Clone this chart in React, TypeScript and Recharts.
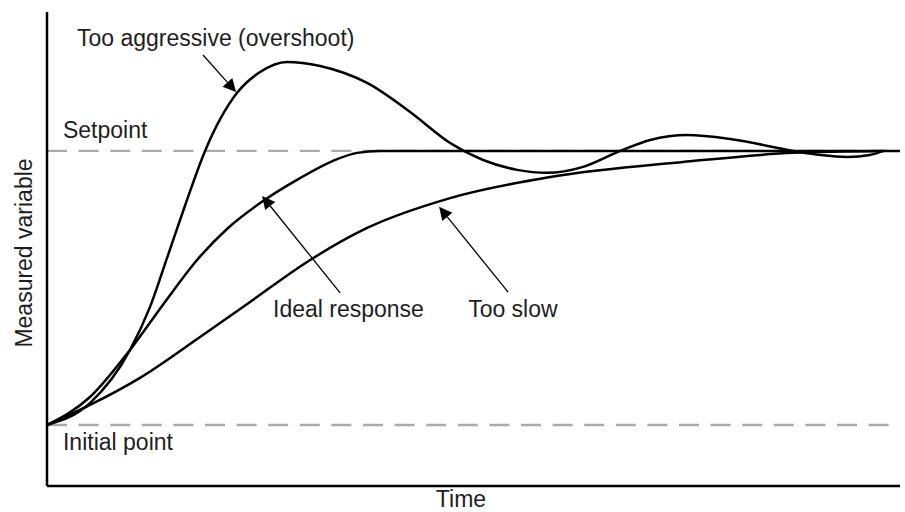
import { LineChart, Line, XAxis, YAxis, ReferenceLine, ReferenceDot, Label } from 'recharts';

// axis ranges (initial point = 0, setpoint = 1)
const TIME_MAX = 102;
const Y_MIN = -0.2226;
const Y_MAX = 1.507;
const SETPOINT = 1;
const INITIAL = 0;

// Too aggressive (overshoot)
const aggressiveT = [0, 5.14, 9.93, 12.32, 14.47, 16.5, 18.9, 22.73, 25.48, 28.71, 32.66, 38.28, 43.42, 48.21, 52.15, 56.22, 59.81, 64.11, 68.54, 72.13, 76.56, 81.7, 89.23, 92.5, 95.69, 98.4, 100];
const aggressiveV = [0, 0.08, 0.274, 0.431, 0.62, 0.8, 1.0, 1.212, 1.288, 1.325, 1.31, 1.248, 1.142, 1.029, 0.967, 0.931, 0.92, 0.942, 1.0, 1.04, 1.058, 1.044, 1.0, 0.985, 0.978, 0.985, 1.0];

// Ideal response
const idealT = [0, 5.14, 9.93, 14.11, 17.94, 21.65, 25.48, 30.26, 34.21, 37.08, 39.83, 102];
const idealV = [0, 0.102, 0.274, 0.449, 0.602, 0.719, 0.81, 0.901, 0.964, 0.993, 1.0, 1.0];

// Too slow
const slowT = [0, 5.14, 11.12, 18.3, 24.28, 31.1, 38.28, 48.21, 60.17, 76.08, 89.23, 100];
const slowV = [0, 0.073, 0.172, 0.321, 0.449, 0.595, 0.719, 0.828, 0.905, 0.96, 0.993, 1.0];

const notes = [
  { text: 'Too aggressive (overshoot)', t: 3.59, v: 1.383 },
  { text: 'Setpoint', t: 1.91, v: 1.047 },
  { text: 'Initial point', t: 1.91, v: -0.091 },
  { text: 'Ideal response', t: 27.03, v: 0.394 },
  { text: 'Too slow', t: 50.36, v: 0.394 },
];

// arrow tail -> tip
const arrows = [
  { from: [18.66, 1.35], to: [22.61, 1.215] },
  { from: [35.05, 0.482], to: [25.72, 0.836] },
  { from: [55.14, 0.485], to: [46.89, 0.796] },
];

const FONT = '"Liberation Sans", Arial, sans-serif';
const INK = '#1e1e1e';

const toRows = (ts: number[], vs: number[]) => ts.map((t, i) => ({ t, v: vs[i] }));

function Arrow(props: any) {
  const { x1, y1, x2, y2 } = props;
  const dx = x2 - x1;
  const dy = y2 - y1;
  const len = Math.sqrt(dx * dx + dy * dy);
  const ux = dx / len;
  const uy = dy / len;
  const headLen = 13;
  const halfW = 6.5;
  const bx = x2 - ux * headLen;
  const by = y2 - uy * headLen;
  const pts = [
    `${x2},${y2}`,
    `${bx - uy * halfW},${by + ux * halfW}`,
    `${bx + uy * halfW},${by - ux * halfW}`,
  ].join(' ');
  return (
    <g>
      <line x1={x1} y1={y1} x2={bx} y2={by} stroke="#000" strokeWidth={1.3} />
      <polygon points={pts} fill="#000" />
    </g>
  );
}

function NoteText({ cx, cy, text }: any) {
  return (
    <text x={cx} y={cy} fill={INK} fontSize={23} fontFamily={FONT}>
      {text}
    </text>
  );
}

export default function App() {
  return (
    <div style={{ position: 'absolute', left: 0, top: 0, width: 905, height: 512, background: '#fff' }}>
      <LineChart width={905} height={512} margin={{ top: 12, right: 5, bottom: 25, left: 46 }}>
        <XAxis
          type="number"
          dataKey="t"
          domain={[0, TIME_MAX]}
          allowDataOverflow
          height={1}
          tick={false}
          tickLine={false}
          axisLine={{ stroke: '#000', strokeWidth: 2.5 }}
        >
          <Label
            content={({ viewBox }: any) => (
              <text
                x={viewBox.x + viewBox.width / 2 - 12.5}
                y={viewBox.y + 21}
                textAnchor="middle"
                fill={INK}
                fontSize={23}
                fontFamily={FONT}
              >
                Time
              </text>
            )}
          />
        </XAxis>
        <YAxis
          type="number"
          domain={[Y_MIN, Y_MAX]}
          allowDataOverflow
          width={1}
          tick={false}
          tickLine={false}
          axisLine={{ stroke: '#000', strokeWidth: 2.5 }}
        >
          <Label
            content={({ viewBox }: any) => {
              const x = viewBox.x + viewBox.width - 15;
              const y = viewBox.y + viewBox.height / 2 + 4;
              return (
                <text
                  x={x}
                  y={y}
                  transform={`rotate(-90, ${x}, ${y})`}
                  textAnchor="middle"
                  fill={INK}
                  fontSize={23}
                  fontFamily={FONT}
                >
                  Measured variable
                </text>
              );
            }}
          />
        </YAxis>

        <ReferenceLine y={SETPOINT} stroke="#aaa" strokeWidth={2.3} strokeDasharray="20 11.6" />
        <ReferenceLine y={INITIAL} stroke="#aaa" strokeWidth={2.3} strokeDasharray="20 11.6" />

        <Line data={toRows(slowT, slowV)} dataKey="v" type="monotone" stroke="#000" strokeWidth={2.5} dot={false} activeDot={false} isAnimationActive={false} />
        <Line data={toRows(idealT, idealV)} dataKey="v" type="monotone" stroke="#000" strokeWidth={2.5} dot={false} activeDot={false} isAnimationActive={false} />
        <Line data={toRows(aggressiveT, aggressiveV)} dataKey="v" type="monotone" stroke="#000" strokeWidth={2.5} dot={false} activeDot={false} isAnimationActive={false} />

        {arrows.map((a, i) => (
          <ReferenceLine
            key={`arrow-${i}`}
            segment={[
              { x: a.from[0], y: a.from[1] },
              { x: a.to[0], y: a.to[1] },
            ]}
            shape={(p: any) => <Arrow {...p} />}
          />
        ))}

        {notes.map((n) => (
          <ReferenceDot
            key={n.text}
            x={n.t}
            y={n.v}
            r={0}
            shape={(p: any) => <NoteText {...p} text={n.text} />}
          />
        ))}
      </LineChart>
    </div>
  );
}
